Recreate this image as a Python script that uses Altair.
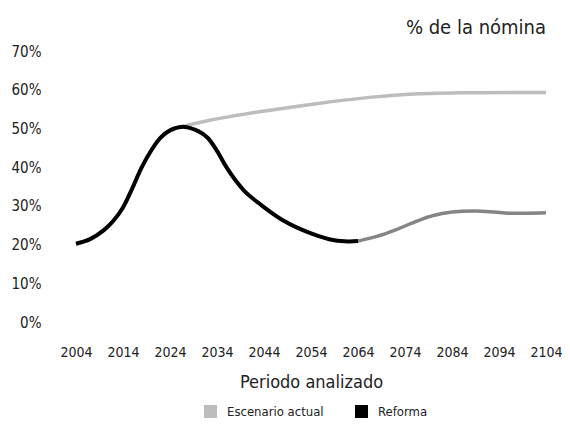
import altair as alt
import pandas as pd

# Reforma (black part)
ref_years = [2004, 2007, 2010, 2012, 2014, 2016, 2018, 2020, 2022, 2024, 2027, 2030, 2032, 2034, 2036, 2038, 2040, 2043, 2048, 2054, 2059, 2062, 2064]
ref_vals = [20.2, 21.4, 23.8, 26.2, 29.6, 34.6, 40.0, 44.3, 47.6, 49.5, 50.4, 49.3, 47.6, 44.2, 40.0, 36.5, 33.6, 30.6, 26.3, 22.9, 21.1, 20.8, 20.9]

# Reforma (grey continuation after 2064)
ref2_years = [2064, 2068, 2072, 2076, 2080, 2084, 2089, 2093, 2096, 2100, 2104]
ref2_vals = [20.9, 22.1, 23.8, 25.8, 27.5, 28.4, 28.7, 28.4, 28.1, 28.1, 28.2]

# Escenario actual
act_years = [2004, 2007, 2010, 2012, 2014, 2016, 2018, 2020, 2022, 2024, 2027, 2032, 2043, 2054, 2064, 2075, 2086, 2104]
act_vals = [20.2, 21.4, 23.8, 26.2, 29.6, 34.6, 40.0, 44.3, 47.6, 49.5, 50.6, 52.0, 54.3, 56.2, 57.7, 58.8, 59.2, 59.3]

x_ticks = [2004, 2014, 2024, 2034, 2044, 2054, 2064, 2074, 2084, 2094, 2104]
y_ticks = [0, 10, 20, 30, 40, 50, 60, 70]

FONT = "DejaVu Sans Condensed, Liberation Sans Narrow, Liberation Sans"
TXT = "#222222"

df_ref = pd.DataFrame({"year": ref_years, "val": ref_vals, "serie": "Reforma"})
df_ref2 = pd.DataFrame({"year": ref2_years, "val": ref2_vals, "serie": "Reforma"})
df_act = pd.DataFrame({"year": act_years, "val": act_vals, "serie": "Escenario actual"})

xenc = alt.X("year:Q", scale=alt.Scale(domain=[2004, 2104], nice=False, zero=False),
             axis=alt.Axis(values=x_ticks, format="d", title="Periodo analizado",
                           grid=False, domain=False, ticks=False, labelPadding=23,
                           labelFlush=False, labelOverlap=False,
                           labelFontSize=14, titleFontSize=18, titlePadding=14,
                           labelColor=TXT, titleColor=TXT, titleFontWeight="normal"))
yenc = alt.Y("val:Q", scale=alt.Scale(domain=[0, 70], nice=False),
             axis=alt.Axis(values=y_ticks, labelExpr="datum.value + '%'", title=None,
                           grid=False, domain=False, ticks=False, labelPadding=35,
                           labelFontSize=15, labelColor=TXT))
color = alt.Color("serie:N", scale=alt.Scale(domain=["Escenario actual", "Reforma"],
                                             range=["#BDBDC0", "#000000"]),
                  legend=alt.Legend(title=None, orient="none", direction="horizontal",
                                    legendX=128, legendY=354, symbolType="square",
                                    symbolSize=9, symbolStrokeWidth=10, labelFontSize=13,
                                    columnPadding=16, labelOffset=10, labelColor=TXT,
                                    padding=0))

act = alt.Chart(df_act).mark_line(interpolate="catmull-rom", strokeWidth=3.5).encode(
    x=xenc, y=yenc, color=color)
ref = alt.Chart(df_ref).mark_line(interpolate="catmull-rom", strokeWidth=4).encode(
    x=xenc, y=yenc, color=color)
ref2 = alt.Chart(df_ref2).mark_line(interpolate="catmull-rom", strokeWidth=3.5, color="#858585").encode(
    x=xenc, y=yenc)

chart = alt.layer(act, ref2, ref).properties(
    width=470, height=271,
    padding={"left": 68, "top": 43, "right": 16, "bottom": 96},
    autosize=alt.AutoSizeParams(type="none"),
    title=alt.TitleParams("% de la nómina", anchor="end", fontSize=20, fontWeight="normal",
                          color=TXT, offset=6, dx=-16),
).configure(font=FONT).configure_view(strokeWidth=0, stroke="transparent")

chart.save("out.html", embed_options={"renderer": "svg", "actions": False})
